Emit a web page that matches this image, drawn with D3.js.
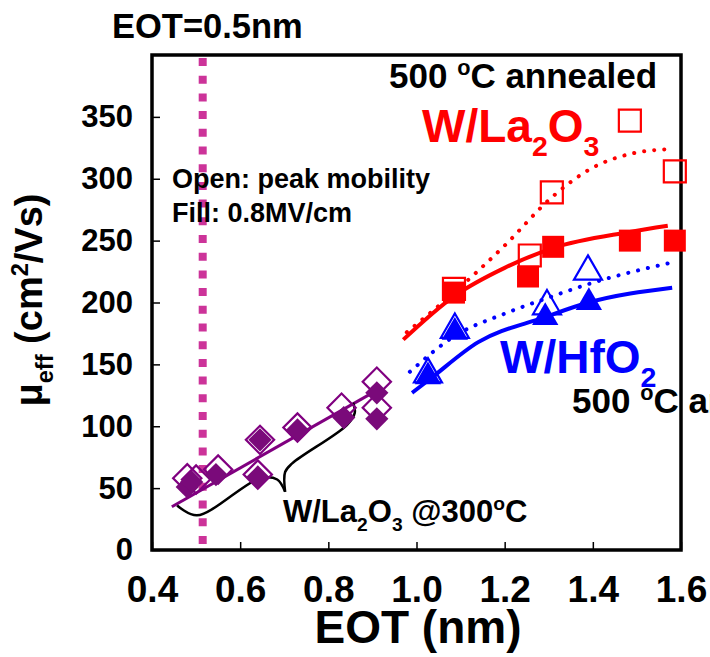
<!DOCTYPE html>
<html>
  <head>
    <meta charset="utf-8" />
    <title>Mobility vs EOT</title>
    <script src="https://d3js.org/d3.v7.min.js"></script>
    <style>
        body {
            margin:0;
            background:#fff;
        }
        text {
            font-family: "Liberation Sans", Arial, sans-serif;
            font-weight: bold;
        }
    </style>
  </head>
  <body>
    <svg id="viz"></svg>

    <script>
    // ---- data ----
    var xTicks = [0.4, 0.6, 0.8, 1.0, 1.2, 1.4, 1.6];
    var yTicks = [0, 50, 100, 150, 200, 250, 300, 350];
    var eotLine = 0.515;

    // W/La2O3 @300C (purple diamonds)
    var diaOpen = [[0.48,58],[0.50,57],[0.55,65],[0.645,89],[0.64,61],[0.73,99],[0.83,115],[0.91,136],[0.91,115]];
    var diaFill = [[0.48,51],[0.49,55],[0.545,61],[0.645,89],[0.64,59],[0.73,97],[0.835,107],[0.91,127],[0.91,106]];
    var diaFit = [[0.445,35],[0.915,130]];

    // W/La2O3 500C (red squares)
    var laOpen = [[1.085,211],[1.257,238],[1.307,289],[1.484,347],[1.586,306]];
    var laFill = [[1.085,208],[1.253,221],[1.31,245],[1.484,250],[1.586,250]];
    var laFitOpen = [[0.978,176],[1.085,208],[1.2,246],[1.307,285],[1.4,309],[1.484,320],[1.575,324]];
    var laFitFill = [[0.97,170],[1.085,205],[1.2,228],[1.31,244],[1.484,257],[1.57,262]];

    // W/HfO2 500C (blue triangles)
    var hfOpen = [[1.026,142],[1.087,178],[1.296,197],[1.389,225]];
    var hfFill = [[1.026,140],[1.087,176],[1.292,188],[1.391,200]];
    var hfFitOpen = [[0.985,144],[1.087,173],[1.2,191],[1.3,204],[1.4,216],[1.575,232]];
    var hfFitFill = [[0.99,127],[1.03,138],[1.14,168],[1.29,188],[1.39,200],[1.58,212]];

    // curly brace under the 300C points
    var braceLeft = [[0.457,36],[0.502,28],[0.645,58],[0.684,57],[0.702,47]];
    var braceRight = [[0.702,47],[0.702,63],[0.718,70],[0.842,101],[0.86,111],[0.856,119]];

    var width = 710;
    var height = 657;

    var svg = d3.select("#viz")
      .attr("width", width)
      .attr("height", height);

    var x = d3.scaleLinear().domain([0.4, 1.6]).range([152, 681]);
    var y = d3.scaleLinear().domain([0, 400]).range([550, 55]);

    var line = d3.line()
      .x(function(d){ return x(d[0]); })
      .y(function(d){ return y(d[1]); });
    var curve = d3.line()
      .x(function(d){ return x(d[0]); })
      .y(function(d){ return y(d[1]); })
      .curve(d3.curveMonotoneX);
    var brace = d3.line()
      .x(function(d){ return x(d[0]); })
      .y(function(d){ return y(d[1]); })
      .curve(d3.curveCatmullRom);

    // axes with inward ticks
    var xAxis = svg.append("g")
      .attr("transform", "translate(0," + y(0) + ")")
      .call(d3.axisBottom(x).tickValues(xTicks).tickSize(-8).tickPadding(26)
        .tickFormat(d3.format(".1f")));
    var yAxis = svg.append("g")
      .attr("transform", "translate(" + x(0.4) + ",0)")
      .call(d3.axisLeft(y).tickValues(yTicks).tickSize(-8).tickPadding(19));

    svg.selectAll(".domain").remove();
    svg.selectAll(".tick line").attr("stroke", "#000").attr("stroke-width", 1.5);
    xAxis.selectAll("text").attr("font-size", 37).attr("fill", "#000")
      .style("font-family", '"Liberation Sans", Arial, sans-serif').style("font-weight", "bold");
    yAxis.selectAll("text").attr("font-size", 31).attr("fill", "#000")
      .style("font-family", '"Liberation Sans", Arial, sans-serif').style("font-weight", "bold");

    // plot frame
    svg.append("rect")
      .attr("x", x(0.4)).attr("y", y(400))
      .attr("width", x(1.6) - x(0.4)).attr("height", y(0) - y(400))
      .attr("fill", "none").attr("stroke", "#000").attr("stroke-width", 3.5);

    // EOT=0.5nm marker
    svg.append("line")
      .attr("x1", x(eotLine)).attr("x2", x(eotLine))
      .attr("y1", 58).attr("y2", 546)
      .attr("stroke", "#cc3399").attr("stroke-width", 8)
      .attr("stroke-dasharray", "8,9.7");

    // fit lines
    svg.append("path").attr("d", line(diaFit))
      .attr("fill", "none").attr("stroke", "#800080").attr("stroke-width", 3);
    svg.append("path").attr("d", curve(laFitFill))
      .attr("fill", "none").attr("stroke", "#ff0000").attr("stroke-width", 4);
    svg.append("path").attr("d", curve(laFitOpen))
      .attr("fill", "none").attr("stroke", "#ff0000").attr("stroke-width", 4)
      .attr("stroke-linecap", "round").attr("stroke-dasharray", "0.1,10");
    svg.append("path").attr("d", curve(hfFitFill))
      .attr("fill", "none").attr("stroke", "#0000ff").attr("stroke-width", 4);
    svg.append("path").attr("d", curve(hfFitOpen))
      .attr("fill", "none").attr("stroke", "#0000ff").attr("stroke-width", 4)
      .attr("stroke-linecap", "round").attr("stroke-dasharray", "0.1,10");

    // brace
    svg.append("path").attr("d", brace(braceLeft))
      .attr("fill", "none").attr("stroke", "#000").attr("stroke-width", 2.5);
    svg.append("path").attr("d", brace(braceRight))
      .attr("fill", "none").attr("stroke", "#000").attr("stroke-width", 2.5);

    // markers
    function marks(data, type, size, color, open, rot) {
      svg.append("g").selectAll("path")
        .data(data)
        .enter().append("path")
        .attr("d", d3.symbol().type(type).size(size))
        .attr("transform", function(d){
          return "translate(" + x(d[0]) + "," + y(d[1]) + ")" + (rot ? " rotate(45)" : "");
        })
        .attr("fill", open ? "none" : color)
        .attr("stroke", color)
        .attr("stroke-width", open ? 2.2 : 0);
    }
    marks(diaOpen, d3.symbolSquare, 400, "#800080", true, true);
    marks(diaFill, d3.symbolSquare, 270, "#7a0a7a", false, true);
    marks(laFill, d3.symbolSquare, 484, "#ff0000", false, false);
    marks(laOpen, d3.symbolSquare, 484, "#ff0000", true, false);
    marks(hfFill, d3.symbolTriangle, 300, "#0000ff", false, false);
    marks(hfOpen, d3.symbolTriangle, 340, "#0000ff", true, false);

    // rich text helper: parts are [text, kind] where kind is "", "sub" or "sup"
    function label(px, py, parts, size, color, anchor, rotate) {
      var t = svg.append("text")
        .attr("font-size", size).attr("fill", color)
        .attr("text-anchor", anchor || "start");
      if (rotate) t.attr("transform", "translate(" + px + "," + py + ") rotate(-90)");
      else t.attr("x", px).attr("y", py);
      var shift = 0;
      parts.forEach(function(p){
        var target = p[1] == "sub" ? size * 0.3 : p[1] == "sup" ? -size * 0.38 : 0;
        t.append("tspan")
          .attr("dy", target - shift)
          .attr("font-size", p[1] ? size * 0.62 : size)
          .text(p[0]);
        shift = target;
      });
      return t;
    }

    label(112, 38, [["EOT=0.5nm", ""]], 34.5, "#000");
    label(389, 88, [["500 ", ""], ["o", "sup"], ["C annealed", ""]], 35, "#000");
    label(572, 413, [["500 ", ""], ["o", "sup"], ["C annealed", ""]], 35, "#000");
    label(422, 142, [["W/La", ""], ["2", "sub"], ["O", ""], ["3", "sub"]], 46, "#ff0000");
    label(500, 373, [["W/HfO", ""], ["2", "sub"]], 46, "#0000ff");
    label(172, 188, [["Open: peak mobility", ""]], 27, "#000");
    label(172, 222, [["Fill: 0.8MV/cm", ""]], 27, "#000");
    label(283, 522, [["W/La", ""], ["2", "sub"], ["O", ""], ["3", "sub"], [" @300", ""], ["o", "sup"], ["C", ""]], 31, "#000");

    // axis titles
    label(418, 643, [["EOT (nm)", ""]], 46, "#000", "middle");
    label(42, 300, [["\u03bc", ""], ["eff", "sub"], [" (cm", ""], ["2", "sup"], ["/Vs)", ""]], 38, "#000", "middle", true);
    </script>
  </body>
</html>
